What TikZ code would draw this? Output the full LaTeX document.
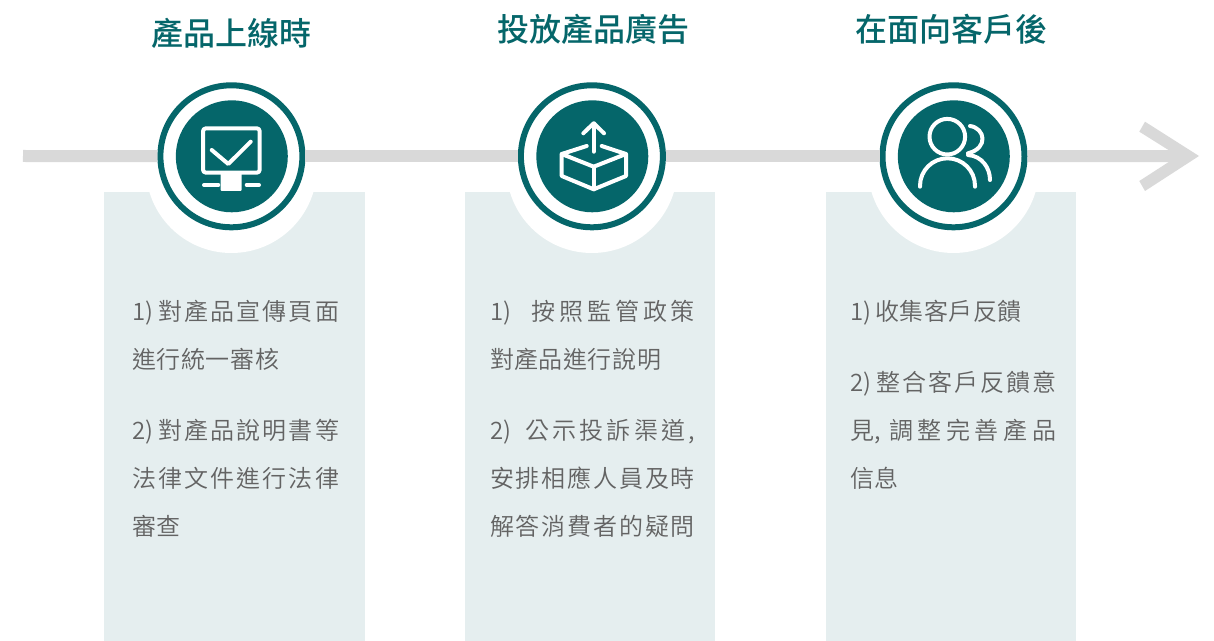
\documentclass[tikz,border=0pt]{standalone}
\usepackage{fontspec}
\setmainfont{Noto Sans CJK TC DemiLight}
\newfontfamily\headfont{Noto Sans CJK TC Medium}
\definecolor{teal1}{HTML}{05666A}
\definecolor{panel}{HTML}{E5EEEF}
\definecolor{rail}{HTML}{D9D9D9}
\definecolor{bodytxt}{HTML}{636363}
\newdimen\pxu \pxu=0.75pt
\def\spr#1#2{#1\ifx#2\relax\else\hfil\expandafter\spr\expandafter#2\fi}
% name, left x, centre y, width, prefix, characters
\newcommand{\bodyline}[6]{\node[bodyline] (#1) at (#2,#3) {\makebox[#4\pxu][s]{#5\spr#6\relax}};}
\tikzset{
  bodyline/.style={anchor=west,inner sep=0pt,outer sep=0pt,text=bodytxt,text height=16.84pt,text depth=3.16pt,font=\fontsize{18pt}{20pt}\selectfont},
  headline/.style={inner sep=0pt,outer sep=0pt,text=teal1,font=\fontsize{24pt}{28pt}\headfont},
  panelbox/.style={fill=panel,draw=none},
  halo/.style={circle,fill=white,draw=none,minimum size=171.2*\pxu,inner sep=0pt},
  ring/.style={circle,draw=teal1,fill=white,line width=6*\pxu,minimum size=142*\pxu,inner sep=0pt},
  disc/.style={circle,fill=teal1,draw=none,minimum size=112*\pxu,inner sep=0pt},
  railline/.style={draw=rail,line width=12*\pxu},
  glyph/.style={draw=white,line width=4*\pxu,line cap=round,line join=round},
}
\begin{document}
\begin{tikzpicture}[x=0.75pt,y=-0.75pt]
\useasboundingbox (0,0) rectangle (1214,641);
% panels
\fill[panelbox] (104,192) rectangle (365,641);
\fill[panelbox] (465,192) rectangle (715,641);
\fill[panelbox] (826,192) rectangle (1076,641);
\node[halo] (haloa) at (231.4,167.4) {};
\node[halo] (halob) at (591.9,167.4) {};
\node[halo] (haloc) at (953.5,167.4) {};
% rings and discs
\node[ring] (ringa) at (231.4,156.3) {};
\node[ring] (ringb) at (591.9,156.3) {};
\node[ring] (ringc) at (953.5,156.3) {};
\node[disc] (disca) at (231.8,156.3) {};
\node[disc] (discb) at (592.3,156.3) {};
\node[disc] (discc) at (953.8,156.3) {};
% rail
\coordinate (railstart) at (23,156);
\coordinate (railend) at (1186,156);
\draw[railline] (railstart) -- (ringa);
\draw[railline] (ringa) -- (ringb);
\draw[railline] (ringb) -- (ringc);
\draw[railline] (ringc) -- (railend);
\fill[rail] (1199,156) -- (1145,121.7) -- (1139.3,131.7) -- (1178,156) -- (1139.3,181) -- (1145,191) -- cycle;
% monitor icon
\draw[glyph,rounded corners=3*\pxu] (203,128.3) rectangle (259.7,172.7);
\draw[glyph] (211.7,150) -- (228.3,164) -- (250.7,141.7);
\fill[white,rounded corners=1*\pxu] (220.7,172) rectangle (241.7,191);
\draw[glyph] (204,185) -- (218.3,185);
\draw[glyph] (246.7,185) -- (259,185);
% box icon
\draw[glyph] (593.7,151.7) -- (593.7,123.3);
\draw[glyph] (583.3,133.3) -- (593.7,123.3) -- (604,133.3);
\draw[glyph] (586.7,146) -- (561.7,154) -- (593.7,166.7) -- (626,154) -- (601.7,146);
\draw[glyph] (561.7,154) -- (561.7,176) -- (593.7,189.3) -- (626,176) -- (626,154);
\draw[glyph] (593.7,166.7) -- (593.7,189.3);
% users icon
\draw[glyph] (947.3,136.7) circle[radius=17.8];
\draw[glyph] (920,186.7) -- (920,185.8) arc[start angle=180,end angle=0,x radius=27.5,y radius=-27.5] -- (975,186.7);
\draw[glyph] (970,126) .. controls (985,128) and (989,148) .. (968,153.3);
\draw[glyph] (968,155) .. controls (982,156) and (990,168) .. (990,180);
% titles
\node[headline] (ta) at (231,33) {產品上線時};
\node[headline] (tb) at (593,29) {投放產品廣告};
\node[headline] (tc) at (951.5,29) {在面向客戶後};
% column 1
\bodyline{aa}{132}{311}{207}{1)\hskip 2.5pt\hfil }{對產品宣傳頁面}
\bodyline{ab}{132}{359}{147}{}{進行統一審核}
\bodyline{ac}{132}{430.5}{207}{2)\hskip 2.5pt\hfil }{對產品說明書等}
\bodyline{ad}{132}{478.5}{207}{}{法律文件進行法律}
\bodyline{ae}{132}{526.5}{49}{}{審查}
% column 2
\bodyline{ba}{490}{311}{205}{1)\hskip 12pt\hfil }{按照監管政策}
\bodyline{bb}{490}{359}{171}{}{對產品進行說明}
\bodyline{bc}{490}{430.5}{205}{2)\hskip 8pt\hfil }{公示投訴渠道,}
\bodyline{bd}{490}{478.5}{205}{}{安排相應人員及時}
\bodyline{be}{490}{526.5}{205}{}{解答消費者的疑問}
% column 3
\bodyline{ca}{850}{311}{172}{1)\hskip 2.5pt\hfil }{收集客戶反饋}
\bodyline{cb}{850}{382.5}{206}{2)\hskip 2.5pt\hfil }{整合客戶反饋意}
\bodyline{cc}{850}{430.5}{206}{見,\hfil\hfil }{調整完善產品}
\bodyline{cd}{850}{478.5}{49}{}{信息}
\end{tikzpicture}
\end{document}
